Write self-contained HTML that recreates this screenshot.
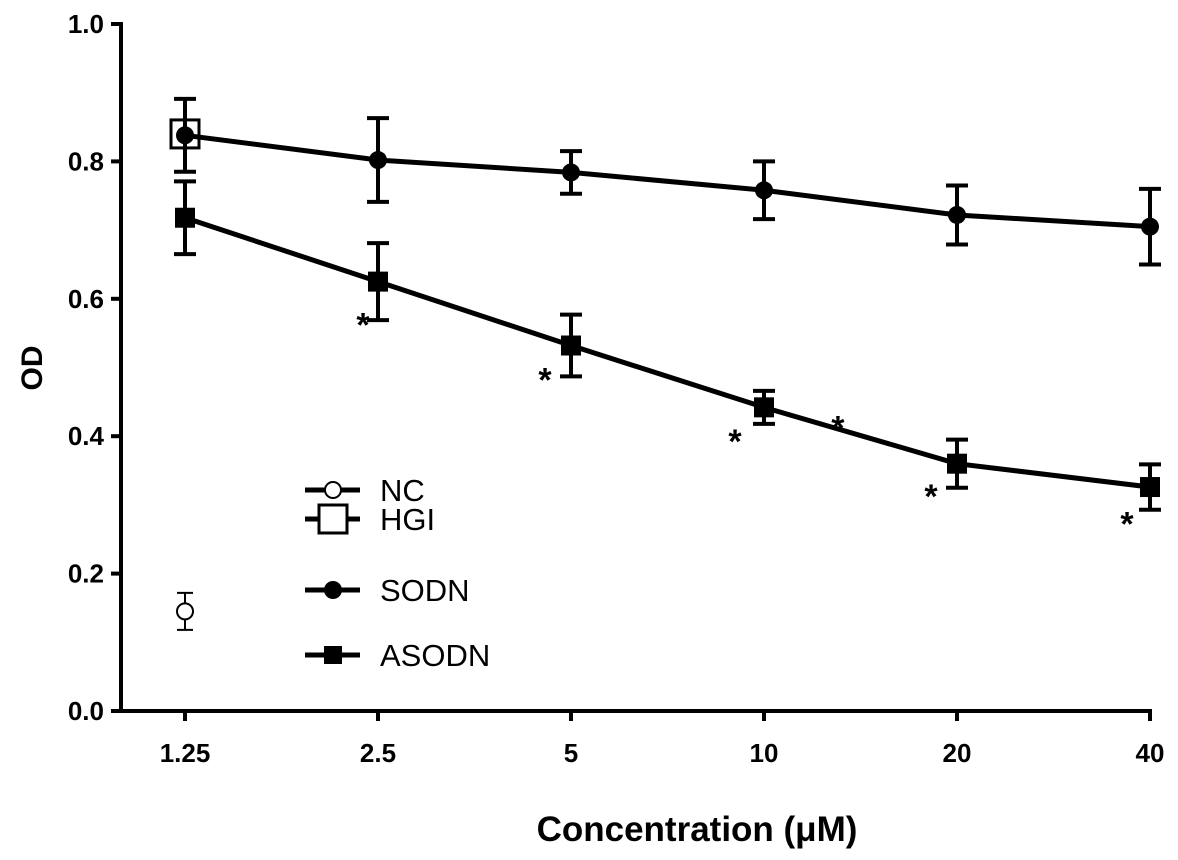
<!DOCTYPE html>
<html><head><meta charset="utf-8"><style>
body{margin:0;background:#fff}
svg{display:block;font-family:"Liberation Sans",Arial,sans-serif;font-weight:bold}
</style></head><body>
<svg id="chart" width="1178" height="860" viewBox="0 0 1178 860"></svg>
<script>
const categories=["1.25","2.5","5","10","20","40"];
const sodnValues=[0.838,0.802,0.784,0.758,0.722,0.705];
const sodnErrors=[0.053,0.061,0.031,0.042,0.043,0.055];
const asodnValues=[0.718,0.625,0.532,0.442,0.360,0.326];
const asodnErrors=[0.053,0.056,0.045,0.024,0.035,0.033];
const hgiValue=[0.840];
const ncValue=[0.145];
const ncError=[0.027];
const yTicks=[0,0.2,0.4,0.6,0.8,1.0];
const yTickLabels=["0.0","0.2","0.4","0.6","0.8","1.0"];
const starCategoryIdx=[0.922,1.865,2.85,3.383,3.865,4.881];
const starValues=[0.57,0.49,0.40,0.42,0.32,0.28];

const NS="http://www.w3.org/2000/svg";
const svg=document.getElementById('chart');
const X0=185,XSTEP=193,Y0=711,YH=687;
const xs=i=>X0+i*XSTEP;
const ys=v=>Y0-v*YH;
function mk(tag,attrs,parent){const e=document.createElementNS(NS,tag);for(const k in attrs)e.setAttribute(k,attrs[k]);(parent||svg).appendChild(e);return e;}

let a=mk('line',{x1:121,y1:22,x2:121,y2:713,stroke:'#000','stroke-width':4});


a=mk('line',{x1:119,y1:711,x2:1152,y2:711,stroke:'#000','stroke-width':4});


yTicks.forEach((v,i)=>{
  let t=mk('line',{x1:111,y1:ys(v),x2:121,y2:ys(v),stroke:'#000','stroke-width':4});
  
  
  let l=mk('text',{x:104,y:ys(v)+9,'text-anchor':'end','font-size':26});
  l.textContent=yTickLabels[i];
  
  
});
categories.forEach((c,i)=>{
  let t=mk('line',{x1:xs(i),y1:711,x2:xs(i),y2:721,stroke:'#000','stroke-width':4});
  
  
  let l=mk('text',{x:xs(i),y:762,'text-anchor':'middle','font-size':26});
  l.textContent=c;
  
  
});
let tt=mk('text',{x:697,y:841,'text-anchor':'middle','font-size':35});
tt.textContent="Concentration (μM)";


tt=mk('text',{x:0,y:0,'text-anchor':'middle','font-size':30,transform:'translate(42,368) rotate(-90)'});
tt.textContent="OD";



function series(vals,errs,name,marker){
  const g=mk('g',{});
  
  
  const p=mk('polyline',{points:vals.map((v,i)=>xs(i)+','+ys(v)).join(' '),fill:'none',stroke:'#000','stroke-width':5},g);
  
  
  vals.forEach((v,i)=>{
    const x=xs(i),t=ys(v+errs[i]),b=ys(v-errs[i]);
    const e=mk('path',{d:`M${x},${t}V${b}M${x-11},${t}H${x+11}M${x-11},${b}H${x+11}`,stroke:'#000','stroke-width':4,fill:'none'},g);
    
    
    let m;
    if(marker==='circle') m=mk('circle',{cx:x,cy:ys(v),r:9,fill:'#000'},g);
    else m=mk('rect',{x:x-10,y:ys(v)-10,width:20,height:20,fill:'#000'},g);
    
    
  });
}
series(sodnValues,sodnErrors,'sodn','circle');
series(asodnValues,asodnErrors,'asodn','square');

let h=mk('rect',{x:xs(0)-14,y:ys(hgiValue[0])-14,width:28,height:28,fill:'none',stroke:'#000','stroke-width':3});



const nx=xs(0),nt=ys(ncValue[0]+ncError[0]),nb=ys(ncValue[0]-ncError[0]);
let ne=mk('path',{d:`M${nx},${nt}V${nb}M${nx-8},${nt}H${nx+8}M${nx-8},${nb}H${nx+8}`,stroke:'#000','stroke-width':2,fill:'none'});


let nc=mk('circle',{cx:nx,cy:ys(ncValue[0]),r:8,fill:'#fff',stroke:'#000','stroke-width':2});



starCategoryIdx.forEach((ci,i)=>{
  let s=mk('text',{x:xs(ci),y:ys(starValues[i])+17,'text-anchor':'middle','font-size':34});
  s.textContent='*';
  
  
});

const legend=[["NC",490,"nc"],["HGI",519,"hgi"],["SODN",590,"sodn"],["ASODN",655,"asodn"]];
legend.forEach(([lab,y,k])=>{
  const g=mk('g',{});
  
  
  mk('line',{x1:305,y1:y,x2:360,y2:y,stroke:'#000','stroke-width':5},g);
  if(k==='nc')mk('circle',{cx:333,cy:y,r:8,fill:'#fff',stroke:'#000','stroke-width':2},g);
  if(k==='hgi')mk('rect',{x:319,y:y-14,width:28,height:28,fill:'#fff',stroke:'#000','stroke-width':3},g);
  if(k==='sodn')mk('circle',{cx:333,cy:y,r:9,fill:'#000'},g);
  if(k==='asodn')mk('rect',{x:324,y:y-9,width:18,height:18,fill:'#000'},g);
  const t=mk('text',{x:380,y:y+11,'font-size':31,'font-weight':'normal'},g);
  t.textContent=lab;
});
</script>
</body></html>
